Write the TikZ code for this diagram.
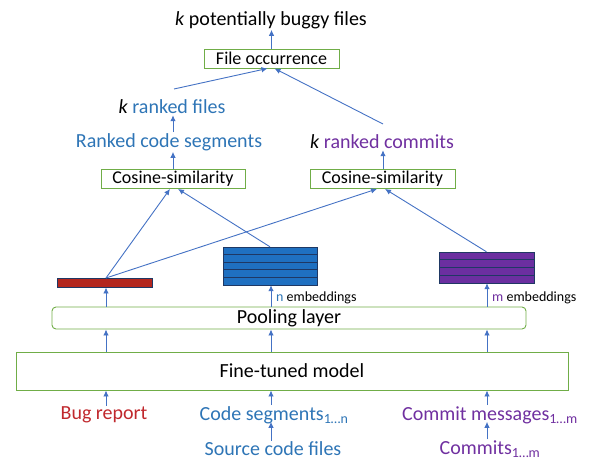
\documentclass[tikz,border=0pt]{standalone}
\usepackage{fontspec}
\setmainfont{Carlito}
\usetikzlibrary{arrows.meta,calc}
\definecolor{tblue}{HTML}{2E75B6}
\definecolor{tred}{HTML}{C0282D}
\definecolor{tpurple}{HTML}{7030A0}
\definecolor{bgreen}{HTML}{70AD47}
\definecolor{lblue}{HTML}{4472C4}
\definecolor{fblue}{HTML}{1F70C1}
\definecolor{fred}{HTML}{B3261E}
\definecolor{fpurple}{HTML}{6B2FA0}
\definecolor{dnavy}{HTML}{1F3864}
\tikzset{
  big/.style={font=\fontsize{20}{24}\selectfont, inner sep=1pt},
  mid/.style={font=\fontsize{18}{22}\selectfont},
  small/.style={font=\fontsize{14}{17}\selectfont, inner sep=0pt},
  gbox/.style={draw=bgreen, line width=0.9pt, inner sep=0pt, mid},
  conn/.style={draw=lblue, line width=0.9pt, -{Latex[length=6pt,width=5.5pt]}},
  row/.style={draw=dnavy, line width=0.9pt},
}
\begin{document}
\begin{tikzpicture}[x=1pt,y=-1pt]
\useasboundingbox (0,0) rectangle (597,463);
% top
\node[big] (title) at (271,20) {\textit{k} potentially buggy files};
\node[gbox, minimum width=135pt, minimum height=19pt] (fo) at (271.5,58.5) {File occurrence};
\node[big, text=tblue] (rfiles) at (172,107) {\textcolor{black}{\textit{k}} ranked files};
\node[big, text=tblue] (rcs) at (169,142) {Ranked code segments};
\node[big, text=tpurple] (rcom) at (382,142) {\textcolor{black}{\textit{k}} ranked commits};
\node[gbox, minimum width=144pt, minimum height=19pt] (cos1) at (173,179) {Cosine-similarity};
\node[gbox, minimum width=145pt, minimum height=19pt] (cos2) at (382.5,179) {Cosine-similarity};
% embeddings
\node[row, fill=fred, minimum width=95pt, minimum height=9pt, inner sep=0pt] (redbar) at (104.5,282.5) {};
\foreach \i in {0,...,4}{
  \path[row, fill=fblue] (223,{247+\i*7.6}) rectangle (317,{247+(\i+1)*7.6});
}
\node[minimum width=94pt, minimum height=38pt, inner sep=0pt] (blueblk) at (270,266) {};
\foreach \i in {0,...,3}{
  \path[row, fill=fpurple] (439,{252+\i*7.75}) rectangle (534,{252+(\i+1)*7.75});
}
\node[minimum width=95pt, minimum height=31pt, inner sep=0pt] (purpblk) at (486.5,267.5) {};
\node[small, anchor=west] (nemb) at (276,298) {\textcolor{tblue}{n} embeddings};
\node[small, anchor=west] (memb) at (492,298) {\textcolor{tpurple}{m} embeddings};
% layers
\node[draw=bgreen, line width=0.9pt, rounded corners=4pt, minimum width=474pt, minimum height=22pt, inner sep=0pt, big] (pool) at (289,318) {Pooling layer};
\node[draw=bgreen, line width=0.9pt, minimum width=552pt, minimum height=38pt, inner sep=0pt, big] (ft) at (292,371) {Fine-tuned model};
% inputs
\node[big, text=tred] (bug) at (104,415) {Bug report};
\node[big, text=tblue] (cseg) at (274,415) {Code segments\textsubscript{1…n}};
\node[big, text=tpurple] (cmsg) at (490,415) {Commit messages\textsubscript{1…m}};
\node[big, text=tblue] (src) at (273,449) {Source code files};
\node[big, text=tpurple] (cmts) at (490,449) {Commits\textsubscript{1…m}};
% column coordinates
\coordinate (xa) at (106,0);
\coordinate (xb) at (271,0);
\coordinate (xc) at (487,0);
\coordinate (xt) at (173,0);
\coordinate (xr) at (383,0);
\coordinate (l1) at (174,89);
\coordinate (l2) at (383,124);
\coordinate (rtop) at (106,278);
% connectors
\draw[conn] (fo.north) -- (title.south -| fo.north);
\draw[conn] (l1) -- ([xshift=-4pt]fo.south);
\draw[conn] (l2) -- ([xshift=3pt]fo.south);
\draw[conn] (rcs.north -| xt) -- (rfiles.south -| xt);
\draw[conn] (cos1.north -| xt) -- (rcs.south -| xt);
\draw[conn] (cos2.north -| xr) -- (rcom.south -| xr);
\draw[conn] (rtop) -- ([xshift=-3pt]cos1.south);
\draw[conn] (rtop) -- ([xshift=-5.5pt]cos2.south);
\draw[conn] (blueblk.north) -- ([xshift=5pt]cos1.south);
\draw[conn] (purpblk.north) -- ([xshift=2.5pt]cos2.south);
\draw[conn] (pool.north -| xa) -- (redbar.south -| xa);
\draw[conn] (pool.north -| xb) -- (blueblk.south -| xb);
\draw[conn] (pool.north -| xc) -- (purpblk.south -| xc);
\draw[conn] (ft.north -| xa) -- (pool.south -| xa);
\draw[conn] (ft.north -| xb) -- (pool.south -| xb);
\draw[conn] (ft.north -| xc) -- (pool.south -| xc);
\draw[conn] (bug.north -| xa) -- (ft.south -| xa);
\draw[conn] (cseg.north -| xb) -- (ft.south -| xb);
\draw[conn] (cmsg.north -| xc) -- (ft.south -| xc);
\draw[conn] (src.north -| xb) -- ([yshift=3pt]cseg.south -| xb);
\draw[conn] (cmts.north -| xc) -- ([yshift=3pt]cmsg.south -| xc);
\end{tikzpicture}
\end{document}
